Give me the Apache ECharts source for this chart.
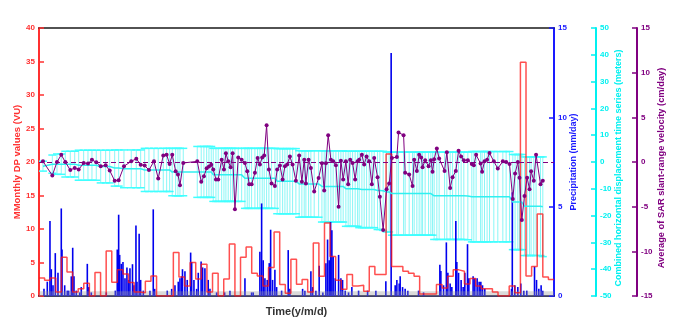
<!DOCTYPE html>
<html>
<head>
<meta charset="utf-8">
<script src="https://cdn.jsdelivr.net/npm/echarts@6.0.0/dist/echarts.min.js"></script>
<style>
html, body { margin: 0; padding: 0; background: #fff; }
#main { width: 679px; height: 322px; }
</style>
</head>
<body>
<div id="main"></div>
<script>
// x is in months since the start of the record (time axis has no tick labels)

// monthly DP values (VU), one per month, left axis
var dp_month = [2.7, 2.35, 2.7, 0.6, 5.8, 3.6, 0.6, 1.1, 1.9, 0,
  3.5, 0, 6.7, 2.05, 3.9, 3.3, 2.0, 0.6, 0.5, 2.2,
  3.0, 0, 0, 0, 6.5, 2.85, 1.5, 5.0, 2.55, 4.75,
  0.6, 3.4, 0, 2.55, 7.75, 0, 5.8, 7.3, 3.4, 3.0,
  1.5, 4.25, 9.55, 1.7, 0.4, 5.5, 1.75, 2.45, 0.6, 7.9,
  2.95, 10.9, 5.9, 2.35, 1.0, 3.2, 1.5, 1.6, 0.7, 4.4,
  3.2, 3.2, 21.2, 4.4, 4.4, 3.7, 3.4, 2.95, 0.3, 0.3,
  0.3, 1.7, 1.2, 2.95, 3.9, 3.7, 1.8, 2.6, 1.5, 1.1,
  1.1, 0.6, 0, 0, 1.5, 0.5, 34.9, 3.0, 4.4, 12.25,
  2.85, 2.45];

// precipitation (mm/day): time and value
var rain_t = [0.89, 1.48, 1.96, 2.20, 2.50, 2.91, 3.39, 3.98, 4.11, 4.59,
  5.05, 5.30, 5.77, 6.02, 6.25, 6.66, 7.27, 7.55, 8.63, 8.88,
  9.34, 12.02, 13.63, 13.98, 14.23, 14.41, 14.70, 15.00, 15.36, 15.71,
  16.02, 16.25, 16.70, 16.96, 17.32, 17.50, 17.89, 18.16, 18.63, 19.82,
  20.41, 20.66, 22.91, 23.70, 24.29, 24.88, 25.18, 25.48, 25.63, 26.07,
  26.48, 27.09, 27.27, 27.68, 28.16, 28.45, 28.96, 29.23, 29.64, 30.23,
  30.54, 31.73, 33.16, 34.11, 36.79, 37.98, 38.27, 39.46, 39.77, 40.05,
  40.36, 40.77, 41.13, 41.38, 41.73, 42.14, 42.45, 43.34, 44.52, 44.82,
  47.09, 47.50, 48.57, 48.88, 49.46, 50.05, 50.71, 51.25, 51.55, 51.84,
  52.09, 52.32, 52.55, 52.91, 53.52, 53.93, 54.23, 54.70, 55.30, 55.89,
  57.09, 58.70, 60.18, 61.96, 62.91, 63.63, 63.93, 64.34, 64.52, 64.95,
  65.41, 65.89, 67.80, 68.70, 71.61, 71.79, 72.27, 72.77, 73.04, 73.45,
  73.75, 74.46, 74.64, 74.95, 75.41, 75.77, 76.07, 76.55, 76.79, 77.55,
  77.86, 78.27, 78.63, 78.93, 79.23, 79.64, 84.41, 84.55, 85.00, 85.54,
  86.07, 86.61, 87.14, 88.52, 88.88, 89.29, 89.70, 90.00];
var rain_v = [0.4, 0.8, 4.2, 1.5, 0.6, 2.4, 1.3, 4.9, 2.6, 0.6,
  0.3, 0.3, 1.1, 2.7, 1.1, 0.3, 0.2, 0.5, 1.8, 0.5,
  0.2, 0.2, 0.3, 2.6, 4.55, 2.3, 1.8, 1.9, 1.0, 1.6,
  0.9, 1.56, 1.78, 0.6, 3.95, 0.8, 3.49, 0.9, 0.3, 0.3,
  4.85, 0.4, 0.3, 0.4, 0.6, 0.8, 1.0, 1.1, 1.5, 1.38,
  0.9, 2.43, 1.9, 0.9, 0.4, 1.3, 1.93, 1.6, 1.56, 0.9,
  0.4, 0.2, 0.2, 0.3, 1.0, 0.2, 0.2, 2.48, 5.18, 2.0,
  1.0, 0.9, 1.84, 3.71, 0.9, 1.47, 0.5, 0.3, 2.57, 0.4,
  0.4, 0.3, 1.38, 0.5, 0.3, 1.69, 0.2, 1.84, 3.16, 2.0,
  4.14, 3.68, 2.2, 1.0, 2.3, 1.0, 0.9, 0.3, 0.2, 0.5,
  0.3, 0.3, 0.3, 0.83, 13.6, 0.6, 0.9, 0.7, 1.1, 0.5,
  0.4, 0.3, 0.3, 0.2, 1.75, 1.4, 0.6, 3.0, 1.3, 0.7,
  0.5, 4.2, 1.9, 1.3, 0.9, 0.5, 1.3, 2.9, 1.0, 1.1,
  1.0, 1.0, 0.8, 0.8, 0.6, 0.4, 0.4, 5.8, 0.6, 0.5,
  0.7, 0.3, 0.3, 1.65, 0.9, 0.4, 0.6, 0.3];

// SAR acquisition times
var sar_t = [0.71, 2.38, 3.21, 3.98, 4.70, 5.59, 6.38, 7.09, 7.98, 8.75,
  9.46, 10.23, 11.02, 11.91, 12.63, 13.52, 14.23, 15.18, 16.48, 17.38,
  18.16, 18.88, 19.64, 20.54, 21.30, 22.20, 22.80, 23.34, 23.80, 24.41,
  24.82, 25.18, 25.77, 28.27, 28.98, 29.46, 29.95, 30.36, 30.77, 31.13,
  31.61, 32.02, 32.63, 33.04, 33.39, 33.80, 34.23, 34.59, 35.00, 35.59,
  36.20, 36.79, 37.20, 37.55, 37.98, 38.57, 39.05, 39.46, 39.88, 40.23,
  40.66, 41.07, 41.55, 42.14, 42.55, 43.04, 43.52, 43.93, 44.34, 44.82,
  45.30, 45.89, 46.48, 46.96, 47.38, 47.68, 48.16, 48.57, 49.16, 49.95,
  50.54, 50.95, 51.25, 51.66, 52.14, 52.55, 53.04, 53.52, 53.93, 54.34,
  54.82, 55.23, 55.59, 56.02, 56.48, 56.91, 57.20, 57.68, 58.09, 58.52,
  58.98, 59.46, 59.88, 60.48, 60.89, 61.48, 62.09, 62.55, 63.04, 63.93,
  64.23, 65.13, 65.41, 66.13, 66.73, 67.02, 67.50, 67.91, 68.27, 68.52,
  68.98, 69.59, 70.00, 70.30, 70.59, 71.07, 71.48, 72.45, 72.86, 73.45,
  73.88, 74.46, 74.95, 75.41, 75.89, 76.61, 77.32, 77.68, 78.09, 78.88,
  79.16, 79.59, 80.05, 80.48, 81.25, 81.96, 82.86, 83.45, 84.05, 84.64,
  85.05, 85.54, 85.84, 86.25, 86.73, 87.20, 87.63, 87.91, 88.39, 88.80,
  89.59, 90.00];

// average SAR slant-range velocity (cm/day)
var sar_vel = [0.07, -1.5, 0, 0.8, 0, -0.9, -0.66, -0.85, -0.1, -0.18,
  0.26, -0.04, -0.48, -0.37, -0.95, -2.1, -2.05, -0.48, 0.07, 0.37,
  -0.3, -0.4, -0.9, 0.07, -1.84, 0.74, 0.8, -0.22, 0.8, -1.03,
  -1.4, -2.6, -0.11, 0.07, -2.2, -1.6, -0.7, -0.5, -0.3, -0.84,
  -1.95, -1.95, 0.26, -0.84, 0.99, 0.07, -0.59, 0.99, -5.3, 0.51,
  0.26, -0.11, -1.03, -2.5, -2.5, -1.2, 0.44, -0.29, 0.51, 0.74,
  4.1, -0.84, -2.4, -2.7, -0.84, -0.4, -1.95, -0.48, -0.29, 0.62,
  -0.29, -2.1, 0.74, -2.2, 0.26, -2.4, 0.26, -0.66, -3.3, -1.8,
  -0.15, -3.2, -0.15, 3.0, 0.26, 0.07, -0.37, -5.0, 0.15, -1.95,
  0.07, -2.5, 0.26, -0.11, -1.95, 0.07, 0.26, 0.8, -0.29, 0.62,
  0.07, -2.5, 0.44, -1.7, -3.9, -7.6, -3.05, -2.4, 0.44, 0.55,
  3.3, 3.0, -1.2, -1.4, -2.7, 0.26, -1.0, 0.8, 0.51, -0.59,
  0.2, -0.48, 0.2, -1.1, 0.3, 1.5, 0.4, -1.0, 1.1, -2.9,
  -1.7, -1.0, 1.25, 0.62, 0.2, 0.2, -0.22, -0.37, 0.8, -0.18,
  -1.1, 0.07, 0.26, 1.0, 0.07, -0.73, 0.07, 0, -0.22, -4.15,
  -1.3, 0, -1.75, -6.5, -3.8, -1.75, -3.05, -1.03, -2.1, 0.8,
  -2.5, -2.1];

// combined horizontal displacement: upper and lower ends of the error bars
var disp_top = [0.3, 2.6, 3.0, 3.0, 4.0, 4.0, 4.0, 4.4, 4.4, 4.4,
  4.4, 4.4, 4.4, 4.4, 4.4, 4.5, 4.5, 4.5, 4.5, 4.5,
  4.5, 5.1, 5.1, 5.1, 5.1, 5.1, 5.1, 5.1, 5.1, 5.1,
  5.1, 5.1, 5.1, 5.8, 5.8, 5.8, 5.8, 5.8, 5.8, 5.1,
  5.1, 5.1, 5.1, 5.1, 5.1, 5.1, 5.1, 5.1, 5.1, 5.1,
  5.1, 5.1, 5.1, 5.1, 5.1, 5.1, 5.1, 5.1, 5.1, 5.1,
  5.1, 5.1, 5.1, 5.1, 5.0, 5.0, 5.0, 5.0, 5.0, 5.0,
  5.0, 5.0, 4.2, 4.2, 4.2, 4.2, 4.2, 4.2, 4.2, 4.2,
  4.2, 4.2, 4.2, 4.2, 4.2, 4.2, 4.2, 4.2, 4.2, 4.2,
  4.0, 4.0, 4.0, 4.0, 4.0, 4.0, 4.0, 4.0, 4.0, 4.0,
  4.0, 4.0, 4.0, 4.0, 4.0, 4.0, 3.7, 3.7, 3.7, 3.7,
  3.7, 3.7, 3.7, 3.7, 3.7, 3.7, 3.7, 3.7, 3.7, 3.7,
  3.7, 3.7, 3.7, 3.7, 3.7, 3.7, 3.7, 3.7, 3.7, 3.7,
  3.7, 3.7, 3.7, 3.7, 3.7, 3.7, 3.9, 3.9, 3.9, 3.9,
  3.9, 3.9, 3.9, 3.9, 3.9, 3.9, 3.9, 3.9, 3.9, 2.8,
  2.8, 2.8, 2.8, 2.8, 1.9, 1.9, 1.9, 1.9, 1.9, 1.9,
  1.9, 1.9];
var disp_bot = [-3.4, -4.2, -4.6, -4.6, -5.6, -5.6, -5.6, -6.8, -6.8, -6.8,
  -6.8, -6.8, -7.8, -7.8, -7.8, -9.0, -9.0, -9.6, -9.6, -9.6,
  -9.6, -11.0, -11.0, -11.0, -11.0, -11.0, -11.0, -11.0, -12.6, -12.6,
  -12.6, -12.6, -12.6, -13.2, -13.2, -13.2, -13.2, -13.2, -13.2, -14.7,
  -14.7, -14.7, -14.7, -14.7, -14.7, -14.7, -14.7, -14.7, -14.7, -14.7,
  -14.7, -17.3, -17.3, -17.3, -17.3, -17.3, -17.3, -17.3, -17.3, -17.3,
  -17.3, -17.3, -17.3, -17.3, -19.3, -19.3, -19.3, -19.3, -19.3, -19.3,
  -19.3, -19.3, -20.6, -20.6, -20.6, -20.6, -20.6, -20.6, -20.6, -20.6,
  -22.4, -22.4, -22.4, -22.4, -22.4, -22.4, -22.4, -22.4, -22.4, -22.4,
  -24.0, -24.0, -24.0, -24.0, -24.0, -24.0, -24.5, -24.5, -24.5, -24.5,
  -24.5, -24.5, -24.5, -25.2, -25.2, -25.5, -26.1, -26.1, -27.3, -27.3,
  -27.3, -27.3, -27.3, -27.3, -27.3, -27.3, -27.3, -27.3, -27.3, -27.3,
  -27.3, -27.3, -27.3, -27.3, -28.9, -28.9, -28.9, -28.9, -28.9, -28.9,
  -28.9, -28.9, -28.9, -28.9, -28.9, -29.0, -29.8, -29.8, -29.8, -29.8,
  -29.8, -29.8, -29.8, -29.8, -29.8, -29.8, -29.8, -29.8, -29.8, -32.7,
  -32.7, -32.7, -32.7, -32.7, -34.9, -34.9, -34.9, -34.9, -34.9, -34.9,
  -34.9, -35.3];

// grey band along the bottom (left axis units)
var grey_band = [[0, 0.7], [92, 0.7]];

var FONT = 'Liberation Sans, Arial, sans-serif';
var RED = '#ff3030', BLUE = '#1a1aff', CYAN = '#00f0f0', PURPLE = '#800080';

var dpData = dp_month.map(function (v, i) { return [i, v]; });
dpData.push([dp_month.length, dp_month[dp_month.length - 1]]);
var rainData = rain_t.map(function (t, i) { return [t, rain_v[i]]; });
var velData = sar_t.map(function (t, i) { return [t, sar_vel[i]]; });
var errData = sar_t.map(function (t, i) { return [t, disp_bot[i], disp_top[i]]; });
var meanData = sar_t.map(function (t, i) { return [t, (disp_top[i] + disp_bot[i]) / 2]; });

function yAx(color, min, max, interval, name, pos, offset, nameGap, nameSize, namePad) {
    return {
        type: 'value', position: pos, offset: offset, min: min, max: max, interval: interval,
        name: name, nameLocation: 'middle', nameRotate: 90, nameGap: nameGap,
        nameMoveOverlap: false,
        nameTextStyle: { color: color, fontWeight: 'bold', fontSize: nameSize, fontFamily: FONT, padding: namePad },
        axisLine: { show: true, onZero: false, lineStyle: { color: color, width: 2 } },
        axisTick: { show: true, inside: true, length: 5, lineStyle: { color: color, width: 1.5 } },
        axisLabel: { color: color, fontWeight: 'bold', fontSize: 8, margin: 4, fontFamily: FONT },
        splitLine: { show: false }
    };
}

var myChart = echarts.init(document.getElementById('main'));

option = {
    animation: false,
    backgroundColor: '#fff',
    grid: { left: 39, right: 125, top: 28, bottom: 22 },
    xAxis: [{
        type: 'value', min: 0, max: 92, position: 'bottom',
        name: 'Time(y/m/d)', nameLocation: 'middle', nameGap: 10,
        nameTextStyle: { color: '#333', fontWeight: 'bold', fontSize: 11, fontFamily: FONT },
        axisLine: { show: true, onZero: false, lineStyle: { color: '#000033', width: 1.5 } },
        axisTick: { show: false }, axisLabel: { show: false }, splitLine: { show: false }
    }, {
        type: 'value', min: 0, max: 92, position: 'top',
        axisLine: { show: true, onZero: false, lineStyle: { color: '#1a1a1a', width: 1.5 } },
        axisTick: { show: false }, axisLabel: { show: false }, splitLine: { show: false }
    }],
    yAxis: [
        yAx(RED, 0, 40, 5, 'MMonthly DP values (VU)', 'left', 0, 17, 9.5, 0),
        yAx(BLUE, 0, 15, 5, 'Precipitation (mm/day)', 'right', 0, 15.5, 9, 0),
        yAx(CYAN, -50, 50, 10, 'Combined horizontal displacement time series (meters)', 'right', 42, 18.5, 9, [0, 12, 0, 0]),
        yAx(PURPLE, -15, 15, 5, 'Average of SAR slant-range velocity (cm/day)', 'right', 83, 20, 9.3, [0, 12, 0, 0])
    ],
    series: [{
        name: 'grey band',
        type: 'line',
        yAxisIndex: 0,
        data: grey_band,
        symbol: 'none',
        lineStyle: { width: 0 },
        areaStyle: { color: 'rgba(150,150,150,0.5)' },
        silent: true
    }, {
        name: 'Monthly DP',
        type: 'line',
        step: 'end',
        yAxisIndex: 0,
        data: dpData,
        symbol: 'none',
        lineStyle: { color: 'rgba(255,20,20,0.75)', width: 1.5 }
    }, {
        name: 'Displacement error',
        type: 'custom',
        yAxisIndex: 2,
        data: errData,
        encode: { x: 0, y: [1, 2] },
        renderItem: function (params, api) {
            var x = api.value(0);
            var lo = api.coord([x, api.value(1)]);
            var hi = api.coord([x, api.value(2)]);
            var w = 4;
            return {
                type: 'group',
                children: [{
                    type: 'line',
                    shape: { x1: lo[0], y1: lo[1], x2: hi[0], y2: hi[1] },
                    style: { stroke: 'rgba(60,240,240,0.6)', lineWidth: 1 }
                }, {
                    type: 'line',
                    shape: { x1: hi[0] - w, y1: hi[1], x2: hi[0] + w, y2: hi[1] },
                    style: { stroke: '#40ffff', lineWidth: 1.5 }
                }, {
                    type: 'line',
                    shape: { x1: lo[0] - w, y1: lo[1], x2: lo[0] + w, y2: lo[1] },
                    style: { stroke: '#40ffff', lineWidth: 1.5 }
                }]
            };
        }
    }, {
        name: 'Displacement',
        type: 'line',
        yAxisIndex: 2,
        data: meanData,
        symbol: 'none',
        lineStyle: { color: '#30f0f0', width: 1.5 }
    }, {
        name: 'Precipitation',
        type: 'custom',
        yAxisIndex: 1,
        data: rainData,
        encode: { x: 0, y: 1 },
        renderItem: function (params, api) {
            var t = api.value(0);
            var base = api.coord([t, 0]);
            var top = api.coord([t, api.value(1)]);
            return {
                type: 'rect',
                shape: { x: base[0] - 0.8, y: top[1], width: 1.6, height: base[1] - top[1] },
                style: { fill: '#0000ee' }
            };
        }
    }, {
        name: 'SAR velocity',
        type: 'line',
        yAxisIndex: 3,
        data: velData,
        symbol: 'circle',
        symbolSize: 4,
        itemStyle: { color: PURPLE },
        lineStyle: { color: PURPLE, width: 1 },
        markLine: {
            silent: true,
            symbol: 'none',
            label: { show: false },
            lineStyle: { color: PURPLE, type: [5, 3], width: 1 },
            data: [{ yAxis: 0 }]
        }
    }]
};

myChart.setOption(option);
</script>
</body>
</html>
